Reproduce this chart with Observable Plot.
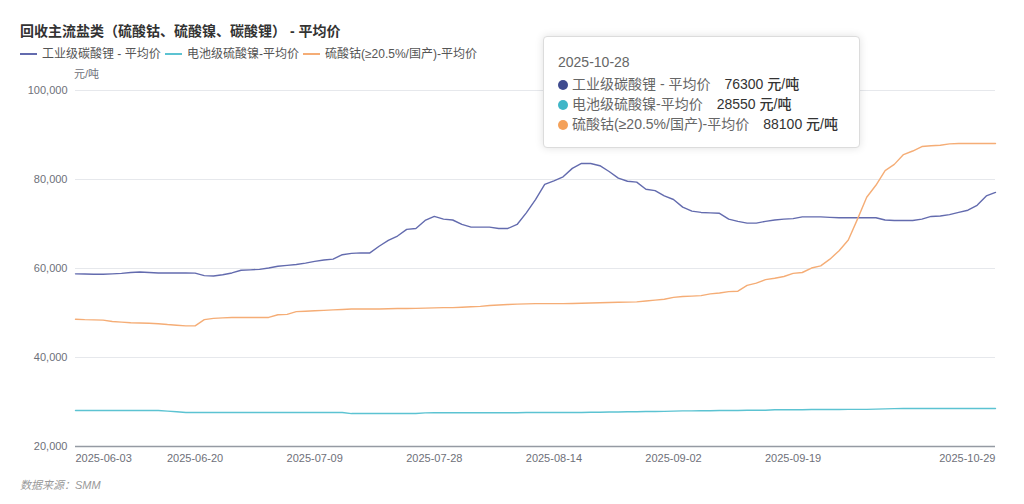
<!DOCTYPE html>
<html>
<head>
<meta charset="utf-8">
<script src="https://cdn.jsdelivr.net/npm/d3@7"></script>
<script src="https://cdn.jsdelivr.net/npm/@observablehq/plot@0.6"></script>
<style>
  html, body { margin: 0; padding: 0; background: #fff; }
  #wrap { position: relative; width: 1024px; height: 504px; overflow: hidden;
    font-family: "Liberation Sans", "Noto Sans CJK SC", sans-serif; }
  #chart { position: absolute; left: 0; top: 0; }
  .abs { position: absolute; white-space: nowrap; }
  #title { left: 20px; top: 22px; font-size: 14px; font-weight: bold; color: #333; line-height: 18px; }
  .leg { top: 46px; font-size: 12px; color: #555; line-height: 16px; display: flex; align-items: center; }
  .leg i { display: inline-block; width: 17px; height: 2px; margin-right: 5px; }
  #unit { left: 74px; top: 65px; font-size: 11px; color: #6e7079; }
  #caption { left: 20px; top: 476px; font-size: 11px; font-style: italic; color: #999; }
  #tip { left: 543px; top: 36px; width: 315px; height: 110px; background: #fff;
    border: 1px solid #dcdcdc; border-radius: 4px; box-shadow: 0 0 8px rgba(0,0,0,0.12); }
  .tt { font-size: 14px; line-height: 20px; color: #666; }
  .dot { display: inline-block; width: 10px; height: 10px; border-radius: 50%; margin-right: 4px; vertical-align: -1px; }
  .val { color: #333; font-weight: 500; }
</style>
</head>
<body>
<div id="wrap">
  <div id="chart"></div>
</div>
<script>
// ---- data ----
const titleText = "回收主流盐类（硫酸钴、硫酸镍、碳酸锂） - 平均价";
const seriesNames = ["工业级碳酸锂 - 平均价", "电池级硫酸镍-平均价", "硫酸钴(≥20.5%/国产)-平均价"];
const lineColors = ["#636bae", "#5cc3d2", "#f5ad76"];
const dotColors = ["#3f4b8f", "#3fb6c8", "#f4a15a"];
const unitText = "元/吨";
const captionText = "数据来源：SMM";
const tooltipDate = "2025-10-28";

const dates = [
  "2025-06-03","2025-06-04","2025-06-05","2025-06-06","2025-06-09","2025-06-10","2025-06-11","2025-06-12","2025-06-13",
  "2025-06-16","2025-06-17","2025-06-18","2025-06-19","2025-06-20","2025-06-23","2025-06-24","2025-06-25","2025-06-26",
  "2025-06-27","2025-06-30","2025-07-01","2025-07-02","2025-07-03","2025-07-04","2025-07-07","2025-07-08","2025-07-09",
  "2025-07-10","2025-07-11","2025-07-14","2025-07-15","2025-07-16","2025-07-17","2025-07-18","2025-07-21","2025-07-22",
  "2025-07-23","2025-07-24","2025-07-25","2025-07-28","2025-07-29","2025-07-30","2025-07-31","2025-08-01","2025-08-04",
  "2025-08-05","2025-08-06","2025-08-07","2025-08-08","2025-08-11","2025-08-12","2025-08-13","2025-08-14","2025-08-15",
  "2025-08-18","2025-08-19","2025-08-20","2025-08-21","2025-08-22","2025-08-25","2025-08-26","2025-08-27","2025-08-28",
  "2025-08-29","2025-09-01","2025-09-02","2025-09-03","2025-09-04","2025-09-05","2025-09-08","2025-09-09","2025-09-10",
  "2025-09-11","2025-09-12","2025-09-15","2025-09-16","2025-09-17","2025-09-18","2025-09-19","2025-09-22","2025-09-23",
  "2025-09-24","2025-09-25","2025-09-26","2025-09-29","2025-09-30","2025-10-09","2025-10-10","2025-10-13","2025-10-14",
  "2025-10-15","2025-10-16","2025-10-17","2025-10-20","2025-10-21","2025-10-22","2025-10-23","2025-10-24","2025-10-27",
  "2025-10-28","2025-10-29"
];

const lithium = [
  58800,58750,58700,58700,58800,58900,59100,59200,59100,59000,
  59000,59000,59000,58950,58400,58300,58600,59000,59600,59700,
  59800,60100,60500,60700,60900,61200,61600,61900,62100,63100,
  63400,63500,63500,65000,66300,67300,68800,69000,70800,71700,
  71100,70900,69900,69300,69300,69300,69000,69000,69900,72500,
  75500,78900,79700,80600,82500,83600,83600,83100,81800,80300,
  79600,79400,77800,77500,76300,75500,73800,72900,72600,72500,
  72400,71100,70600,70200,70200,70600,70900,71100,71200,71600,
  71600,71600,71500,71400,71400,71400,71400,71400,70900,70800,
  70800,70800,71100,71700,71800,72100,72600,73100,74200,76300,
  77100
];

const nickel = [
  28100,28100,28100,28100,28100,28100,28100,28100,28100,28100,
  27950,27800,27650,27650,27650,27650,27650,27650,27650,27650,
  27650,27650,27650,27650,27650,27650,27650,27650,27650,27650,
  27400,27400,27400,27400,27400,27400,27400,27400,27550,27600,
  27600,27600,27600,27600,27600,27600,27600,27600,27600,27650,
  27650,27650,27650,27650,27650,27650,27700,27700,27750,27750,
  27800,27800,27850,27850,27900,27950,28000,28000,28050,28050,
  28100,28100,28100,28150,28150,28150,28250,28250,28250,28250,
  28300,28300,28300,28300,28350,28350,28350,28400,28450,28500,
  28550,28550,28550,28550,28550,28550,28550,28550,28550,28550,
  28550
];

const cobalt = [
  48600,48500,48450,48400,48100,47950,47800,47750,47700,47600,
  47400,47250,47100,47100,48500,48800,48900,49000,49000,49000,
  49000,49000,49600,49700,50300,50400,50500,50600,50700,50800,
  50900,50900,50900,50900,50950,51000,51000,51050,51100,51150,
  51200,51200,51300,51400,51500,51700,51800,51900,52000,52050,
  52100,52100,52100,52100,52150,52200,52250,52300,52350,52400,
  52450,52500,52700,52900,53100,53500,53700,53800,53900,54300,
  54500,54800,54900,56200,56700,57500,57800,58200,58900,59100,
  60100,60600,62100,64000,66400,71100,76000,78700,82000,83400,
  85600,86400,87400,87600,87700,88000,88100,88100,88100,88100,
  88100
];

const yTicks = [20000, 40000, 60000, 80000, 100000];
const xTickLabels = ["2025-06-03","2025-06-20","2025-07-09","2025-07-28","2025-08-14","2025-09-02","2025-09-19","2025-10-29"];

// ---- build ----
const seriesValues = [lithium, nickel, cobalt];
const rows = [];
seriesValues.forEach((vals, s) => vals.forEach((v, i) => rows.push({date: dates[i], series: seriesNames[s], value: v})));

const fontFam = '"Liberation Sans", "Noto Sans CJK SC", sans-serif';
const labelColor = "#6e7079";

const chart = Plot.plot({
  width: 1024,
  height: 504,
  marginLeft: 75,
  marginRight: 29,
  marginTop: 90,
  marginBottom: 58,
  style: {fontFamily: fontFam, fontSize: "11px", background: "transparent", overflow: "visible"},
  x: {type: "point", domain: dates, padding: 0, round: false, axis: null},
  y: {domain: [20000, 100000], axis: null},
  color: {domain: seriesNames, range: lineColors},
  marks: [
    Plot.ruleY(yTicks.slice(1), {y: d => d, stroke: "#e6e8ec", strokeWidth: 1}),
    Plot.ruleY([yTicks[0]], {y: d => d, stroke: "#959aa3", strokeWidth: 1.6}),
    Plot.text(yTicks, {y: d => d, frameAnchor: "left", dx: -8, textAnchor: "end", text: d => d3.format(",")(d), fill: labelColor}),
    Plot.text([xTickLabels[0]], {x: d => d, frameAnchor: "bottom", dy: 15, textAnchor: "start", text: d => d, fill: labelColor}),
    Plot.text(xTickLabels.slice(1, -1), {x: d => d, frameAnchor: "bottom", dy: 15, textAnchor: "middle", text: d => d, fill: labelColor}),
    Plot.text([xTickLabels[xTickLabels.length - 1]], {x: d => d, frameAnchor: "bottom", dy: 15, textAnchor: "end", text: d => d, fill: labelColor}),
    Plot.line(rows, {x: "date", y: "value", z: "series", stroke: "series", strokeWidth: 1.4, curve: "linear"})
  ]
});
document.getElementById("chart").appendChild(chart);

// ---- html overlays ----
const wrap = document.getElementById("wrap");
function addDiv(id, cls, html, style) {
  const d = document.createElement("div");
  if (id) d.id = id;
  d.className = "abs " + (cls || "");
  d.innerHTML = html;
  if (style) Object.assign(d.style, style);
  wrap.appendChild(d);
  return d;
}
addDiv("title", "", titleText);
const legLefts = [20, 165, 303];
seriesNames.forEach((n, i) => {
  addDiv(null, "leg", `<i style="background:${lineColors[i]}"></i>${n}`, {left: legLefts[i] + "px"});
});
addDiv("unit", "", unitText);
addDiv("caption", "", captionText);

const tip = addDiv("tip", "", "");
const idx = dates.indexOf(tooltipDate);
let html = `<div class="abs tt" style="left:14px;top:15px;">${tooltipDate}</div>`;
seriesNames.forEach((n, i) => {
  html += `<div class="abs tt" style="left:14px;top:${37 + i * 20}px;"><span class="dot" style="background:${dotColors[i]}"></span>${n}<span class="val" style="margin-left:14px">${seriesValues[i][idx]} 元/吨</span></div>`;
});
tip.innerHTML = html;
</script>
</body>
</html>
